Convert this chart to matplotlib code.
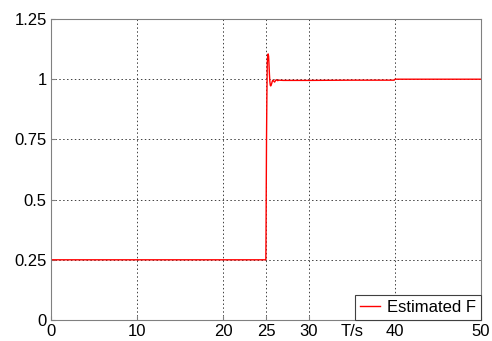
import matplotlib
matplotlib.use("Agg")
import matplotlib.pyplot as plt

plt.rcParams['font.family'] = ['Liberation Sans', 'DejaVu Sans']

# Estimated F step response samples
t = [0, 24.98, 25.0, 25.03, 25.06, 25.1, 25.15, 25.2, 25.25, 25.3, 25.35,
     25.4, 25.45, 25.5, 25.55, 25.6, 25.66, 25.72, 25.8, 25.9, 26.0,
     26.1, 26.2, 26.35, 26.5, 27.0, 30.0, 35.0, 39.9, 40.0, 50.0]
f = [0.25, 0.25, 0.33, 0.55, 0.75, 0.92, 1.07, 1.10, 1.105, 1.095, 1.06,
     1.02, 0.99, 0.975, 0.972, 0.976, 0.982, 0.99, 0.996, 0.992, 0.988,
     0.994, 0.998, 0.994, 0.996, 0.995, 0.995, 0.996, 0.996, 1.0, 1.0]

xticks = [0, 10, 20, 25, 30, 40, 50]
xunit_pos = 35
xunit_label = 'T/s'
yticks = [0, 0.25, 0.5, 0.75, 1, 1.25]
ytick_labels = ['0', '0.25', '0.5', '0.75', '1', '1.25']

fig = plt.figure(figsize=(4.92, 3.41), dpi=100)
ax = fig.add_axes([51/492, 21/341, 430/492, 301/341])

ax.plot(t, f, color='red', lw=1.0, label='Estimated F')

ax.set_xlim(0, 50)
ax.set_ylim(0, 1.25)
ax.set_xticks(xticks)
ax.set_xticklabels([str(v) for v in xticks])
ax.set_xticks([xunit_pos], minor=True)
ax.set_xticklabels([xunit_label], minor=True)
ax.set_yticks(yticks)
ax.set_yticklabels(ytick_labels)
ax.tick_params(which='major', direction='in', length=3, colors='#808080',
               labelcolor='black', labelsize=12, pad=3)
ax.tick_params(which='minor', direction='in', length=0, labelcolor='black',
               labelsize=12, pad=3)

ax.grid(True, which='major', color='#404040', linestyle=(0, (1.5, 2.5)),
        linewidth=0.7)
for s in ax.spines.values():
    s.set_color('#808080')

leg = ax.legend(loc='lower right', fontsize=12, fancybox=False,
                framealpha=1, edgecolor='#404040', borderaxespad=0,
                handlelength=1.2, handletextpad=0.4, borderpad=0.3)
leg.get_frame().set_linewidth(0.8)

fig.savefig('out.png', dpi=100)
